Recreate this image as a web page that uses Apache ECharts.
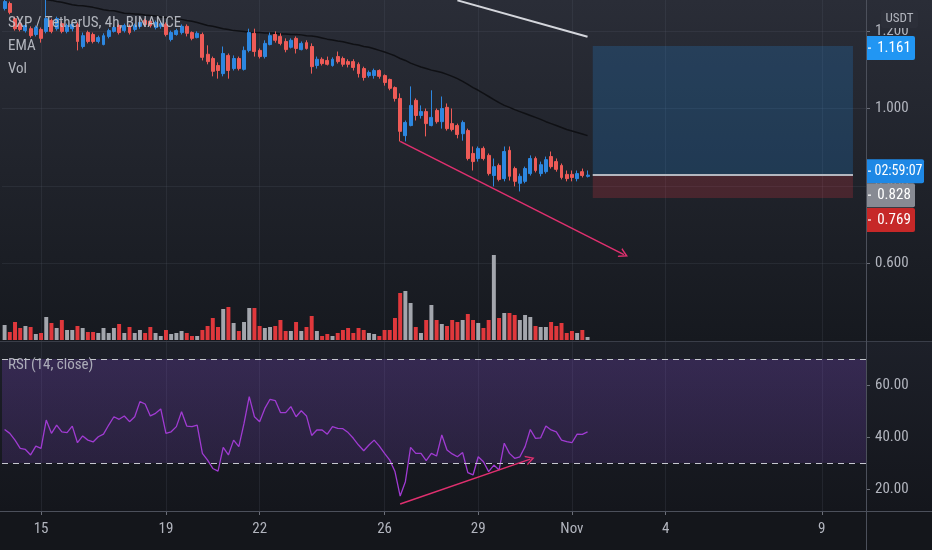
<!DOCTYPE html>
<html><head><meta charset="utf-8">
<script src="https://cdn.jsdelivr.net/npm/echarts@6/dist/echarts.min.js"></script>
<style>html,body{margin:0;padding:0;background:#15171d;}#c{width:932px;height:550px;}</style>
</head><body><div id="c"></div>
<script>
// ---------- DATA (SXP / TetherUS, 4h candles) ----------
const opens = [
1.258,1.271,1.232,1.219,1.201,1.206,1.191,1.204,1.199,1.227,
1.206,1.219,1.199,1.206,1.217,1.160,1.196,1.191,1.173,1.165,
1.186,1.199,1.214,1.201,1.212,1.204,1.212,1.227,1.225,1.209,
1.212,1.217,1.178,1.191,1.196,1.212,1.196,1.183,1.191,1.140,
1.129,1.111,1.090,1.137,1.103,1.129,1.101,1.150,1.194,1.150,
1.134,1.165,1.191,1.186,1.173,1.158,1.181,1.152,1.170,1.160,
1.111,1.127,1.124,1.111,1.134,1.129,1.121,1.121,1.114,1.103,
1.085,1.085,1.098,1.085,1.075,1.054,1.026,0.930,0.956,1.021,
0.982,0.992,0.956,0.995,0.966,1.003,0.961,0.956,0.935,0.943,
0.884,0.871,0.897,0.879,0.827,0.853,0.819,0.892,0.845,0.807,
0.812,0.832,0.871,0.832,0.837,0.876,0.863,0.853,0.830,0.830,
0.819,0.837,0.825];
const closes = [
1.276,1.248,1.206,1.204,1.214,1.188,1.209,1.181,1.232,1.199,
1.232,1.199,1.214,1.217,1.173,1.188,1.173,1.173,1.183,1.188,
1.201,1.209,1.196,1.214,1.196,1.214,1.222,1.217,1.214,1.222,
1.219,1.191,1.196,1.201,1.212,1.194,1.181,1.194,1.132,1.121,
1.096,1.098,1.142,1.098,1.129,1.103,1.150,1.196,1.147,1.134,
1.168,1.188,1.176,1.168,1.152,1.176,1.155,1.168,1.155,1.108,
1.127,1.116,1.114,1.127,1.121,1.114,1.114,1.106,1.090,1.080,
1.093,1.098,1.083,1.067,1.052,1.026,0.941,0.964,1.008,0.982,
0.992,0.961,0.977,0.966,1.000,0.948,0.946,0.933,0.964,0.871,
0.863,0.897,0.871,0.832,0.850,0.817,0.889,0.825,0.812,0.825,
0.845,0.871,0.840,0.855,0.868,0.850,0.843,0.822,0.819,0.822,
0.832,0.827,0.828];
const highs = [
1.284,1.276,1.237,1.227,1.219,1.212,1.214,1.209,1.284,1.232,
1.237,1.225,1.219,1.222,1.222,1.196,1.201,1.196,1.188,1.194,
1.206,1.214,1.219,1.219,1.217,1.219,1.227,1.232,1.230,1.227,
1.225,1.222,1.201,1.206,1.217,1.217,1.199,1.199,1.196,1.163,
1.134,1.119,1.160,1.142,1.137,1.134,1.160,1.206,1.206,1.155,
1.176,1.196,1.199,1.194,1.181,1.181,1.186,1.173,1.176,1.168,
1.134,1.132,1.134,1.132,1.147,1.134,1.127,1.127,1.119,1.108,
1.098,1.103,1.101,1.088,1.077,1.057,1.039,0.969,1.057,1.026,
1.008,1.000,1.047,1.000,1.031,1.013,1.000,0.961,0.969,0.948,
0.902,0.902,0.902,0.884,0.871,0.858,0.902,0.902,0.850,0.832,
0.850,0.879,0.876,0.863,0.876,0.889,0.871,0.858,0.840,0.840,
0.840,0.845,0.840];
const lows = [
1.253,1.243,1.201,1.199,1.196,1.183,1.186,1.170,1.194,1.194,
1.201,1.194,1.194,1.199,1.150,1.155,1.168,1.168,1.168,1.163,
1.181,1.196,1.191,1.196,1.191,1.199,1.206,1.212,1.209,1.204,
1.206,1.186,1.173,1.188,1.191,1.186,1.176,1.181,1.124,1.114,
1.083,1.077,1.083,1.077,1.098,1.098,1.098,1.145,1.134,1.129,
1.129,1.163,1.170,1.163,1.145,1.155,1.142,1.150,1.152,1.090,
1.103,1.111,1.111,1.108,1.116,1.108,1.106,1.098,1.080,1.072,
1.080,1.077,1.077,1.059,1.047,1.018,0.915,0.915,0.954,0.969,
0.974,0.928,0.954,0.961,0.948,0.943,0.941,0.923,0.917,0.866,
0.840,0.863,0.866,0.827,0.799,0.812,0.812,0.814,0.799,0.786,
0.807,0.827,0.835,0.825,0.832,0.845,0.837,0.817,0.812,0.812,
0.812,0.822,0.822];
const ema = [
1.302,1.299,1.297,1.294,1.292,1.289,1.286,1.284,1.281,1.279,
1.276,1.274,1.271,1.268,1.266,1.265,1.263,1.261,1.258,1.255,
1.253,1.252,1.249,1.246,1.245,1.244,1.243,1.241,1.240,1.239,
1.236,1.235,1.234,1.232,1.230,1.227,1.225,1.222,1.218,1.214,
1.212,1.209,1.206,1.204,1.201,1.200,1.199,1.197,1.196,1.196,
1.195,1.195,1.194,1.192,1.192,1.191,1.191,1.190,1.188,1.187,
1.185,1.182,1.179,1.177,1.174,1.172,1.169,1.166,1.164,1.160,
1.158,1.154,1.150,1.146,1.141,1.136,1.129,1.124,1.117,1.112,
1.107,1.103,1.099,1.096,1.093,1.088,1.083,1.077,1.070,1.062,
1.054,1.047,1.039,1.031,1.023,1.015,1.008,1.003,0.997,0.992,
0.987,0.982,0.977,0.972,0.966,0.961,0.956,0.951,0.946,0.942,
0.938,0.934,0.930];
const volumes = [
15,8,18,12,14,13,6,7,23,17,
12,20,10,10,14,12,8,8,7,12,
7,12,16,7,13,7,10,7,13,7,
4,10,6,7,9,7,4,4,10,14,
22,13,31,33,17,9,18,32,32,14,
12,13,14,20,9,9,18,9,13,24,
9,4,6,4,7,10,12,7,12,10,
7,6,4,10,10,22,47,49,37,13,
7,20,35,20,16,14,20,18,20,26,
20,17,12,20,85,22,27,27,25,20,
25,23,14,13,13,18,14,17,7,9,
7,10,3];
const rsi = [
42.9,41.4,38.8,35.6,35.2,33.1,36.5,35.6,46.5,41.4,
44.6,42.0,41.7,44.2,37.8,40.4,38.8,38.1,40.1,41.1,
44.6,47.8,46.8,48.1,45.9,47.8,53.6,52.7,48.1,49.1,
50.8,41.4,42.0,44.0,49.7,44.2,44.0,44.6,33.7,31.1,
27.9,26.9,36.0,33.1,38.8,36.3,45.2,55.5,47.8,45.9,
51.0,54.5,54.0,49.4,49.4,51.7,47.8,50.1,48.1,40.6,
42.7,42.7,41.1,44.0,43.3,43.2,41.7,39.5,36.9,34.7,
36.9,38.8,36.5,33.7,31.1,26.7,17.3,22.8,36.0,33.7,
33.7,30.9,33.7,32.7,40.8,35.0,33.5,32.4,34.0,26.3,
25.4,32.4,30.5,26.7,29.2,27.3,37.6,33.7,31.8,32.4,
36.3,42.9,39.5,39.7,44.2,42.7,42.0,38.8,38.2,37.8,
41.1,41.0,42.0];

// time slots (4h) of the axis, from the first visible candle to the right edge
const firstSlot = '2020-10-13T20:00:00Z';
const slotCount = 166;
const tickDates = ['2020-10-15','2020-10-19','2020-10-22','2020-10-26','2020-10-29','2020-11-01','2020-11-04','2020-11-09'];
const tickLabels = ['15','19','22','26','29','Nov','4','9'];
const priceTicks = [0.6, 0.8, 1.0, 1.2];
const rsiTicks = [20, 40, 60];
const rsiBands = [70, 30];

// drawings
const downTrend = [[76, 0.915], [119, 0.623]];   // [slot, price]
const rsiTrend = [[76, 14.2], [101, 31.5]];      // [slot, rsi]
const whiteLine = [[87, 1.279], [112, 1.185]];   // [slot, price]
const positionSlots = [113, 163];
const targetPrice = 1.161, entryPrice = 0.828, stopPrice = 0.769;
const lastPrice = 0.828, countdown = '02:59:07';

// ---------- CHART ----------
const categories = [];
for (let i = 0; i < slotCount; i++) {
  categories.push(new Date(Date.parse(firstSlot) + i * 4 * 3600e3).toISOString().slice(0, 13));
}
const isTick = (idx, v) => tickDates.indexOf(String(v).slice(0, 10)) >= 0 && String(v).slice(11, 13) === '00';
const tickFmt = v => { const k = tickDates.indexOf(String(v).slice(0, 10)); return k >= 0 ? tickLabels[k] : ''; };

const FONT = '"Liberation Sans Narrow", "Roboto Condensed", Roboto, "Noto Sans", sans-serif';
const TEXT = '#b2b5be';
const UP = '#2d87e0', DOWN = '#ee5b57';
const VOL_UP = '#a3a6ad', VOL_DOWN = '#e0383c';
const PINK = '#e0306f';
const GRIDC = 'rgba(90,94,108,0.2)';
const L = 2, R = 66, W = 932, H = 550;
const AXX = W - R;
const chevron = 'path://M0,10 L5,0 L10,10 L8.4,10 L5,3.2 L1.6,10 Z';

function xAxisCfg(gi, showLabels, showSplit) {
  return {
    type: 'category', gridIndex: gi, data: categories, boundaryGap: true,
    axisLine: { show: false },
    axisTick: { show: showLabels, alignWithLabel: true, interval: isTick, length: 4, lineStyle: { color: '#6b6e78' } },
    axisLabel: { show: showLabels, interval: isTick, formatter: tickFmt, color: TEXT, fontSize: 15, fontFamily: FONT, margin: 11 },
    splitLine: { show: showSplit, alignWithLabel: true, interval: isTick, lineStyle: { color: GRIDC, width: 1 } }
  };
}

const candleData = opens.map((o, i) => [o, closes[i], lows[i], highs[i]]);
const volData = volumes.map((v, i) => ({ value: v, itemStyle: { color: closes[i] >= opens[i] ? VOL_UP : VOL_DOWN } }));

const option = {
  animation: false,
  backgroundColor: '#15171d',
  grid: [
    { left: L, right: R, top: 0, height: 341 },
    { left: L, right: R, top: 240, height: 100 },
    { left: L, right: R, top: 333, height: 208 },
    { left: L, right: R, top: 342, height: 169 }
  ],
  xAxis: [xAxisCfg(0, false, true), xAxisCfg(1, false, false), xAxisCfg(2, false, false), xAxisCfg(3, true, true)],
  yAxis: [
    { type: 'value', gridIndex: 0, position: 'right', min: 0.4, max: 1.28, interval: 0.2,
      axisLine: { show: false },
      axisTick: { show: true, length: 4, customValues: priceTicks, lineStyle: { color: '#6b6e78' } },
      axisLabel: { color: TEXT, fontSize: 15, fontFamily: FONT, margin: 9, customValues: priceTicks, formatter: v => v.toFixed(3) },
      splitLine: { lineStyle: { color: GRIDC } } },
    { type: 'value', gridIndex: 1, min: 0, max: 100, show: false, splitLine: { show: false } },
    { type: 'value', gridIndex: 2, position: 'right', min: 0, max: 80,
      axisLine: { show: false },
      axisTick: { show: true, length: 4, customValues: rsiTicks, lineStyle: { color: '#6b6e78' } },
      axisLabel: { color: TEXT, fontSize: 15, fontFamily: FONT, margin: 9, customValues: rsiTicks, formatter: v => v.toFixed(2) },
      splitLine: { show: false } },
    { type: 'value', gridIndex: 3, show: false, splitLine: { show: false } }
  ],
  series: [
    { type: 'bar', name: 'Vol', xAxisIndex: 1, yAxisIndex: 1, data: volData, barWidth: '76%', z: 1 },
    { type: 'line', name: 'EMA', xAxisIndex: 0, yAxisIndex: 0, data: ema, symbol: 'none', z: 2,
      lineStyle: { color: '#0f1014', width: 1.5 } },
    { type: 'candlestick', name: 'SXP', xAxisIndex: 0, yAxisIndex: 0, data: candleData, barWidth: '66%', z: 3,
      itemStyle: { color: UP, color0: DOWN, borderColor: UP, borderColor0: DOWN, borderWidth: 1 },
      markArea: { silent: true, data: [
        [{ coord: [positionSlots[0], targetPrice], itemStyle: { color: 'rgba(33,150,243,0.2)' } }, { coord: [positionSlots[1], entryPrice] }],
        [{ coord: [positionSlots[0], entryPrice], itemStyle: { color: 'rgba(242,54,69,0.2)' } }, { coord: [positionSlots[1], stopPrice] }]
      ] },
      markLine: { silent: true, symbol: ['none', 'none'], label: { show: false }, data: [
        [{ coord: downTrend[0], lineStyle: { color: PINK, width: 1.5, type: 'solid' } },
         { coord: downTrend[1], symbol: chevron, symbolSize: [10, 9] }],
        [{ coord: whiteLine[0], lineStyle: { color: '#d4d6dc', width: 2, type: 'solid' } }, { coord: whiteLine[1] }],
        [{ coord: [positionSlots[0], entryPrice], lineStyle: { color: '#b4b7bf', width: 2, type: 'solid' } }, { coord: [positionSlots[1], entryPrice] }]
      ] } },
    { type: 'line', name: 'RSI', xAxisIndex: 2, yAxisIndex: 2, data: rsi, symbol: 'none', z: 3,
      lineStyle: { color: '#a03bd2', width: 1.3 },
      markArea: { silent: true, data: [[
        { yAxis: rsiBands[0], itemStyle: { color: { type: 'linear', x: 0, y: 0, x2: 0, y2: 1,
          colorStops: [{ offset: 0, color: 'rgba(126,70,200,0.26)' }, { offset: 1, color: 'rgba(126,70,200,0.18)' }] } } },
        { yAxis: rsiBands[1] }]] },
      markLine: { silent: true, symbol: ['none', 'none'], label: { show: false }, data: [
        { yAxis: rsiBands[0], lineStyle: { color: '#c5c7ce', width: 1, type: [6, 5] } },
        { yAxis: rsiBands[1], lineStyle: { color: '#c5c7ce', width: 1, type: [6, 5] } },
        [{ coord: rsiTrend[0], lineStyle: { color: PINK, width: 1.5, type: 'solid' } },
         { coord: rsiTrend[1], symbol: chevron, symbolSize: [10, 9] }]
      ] } }
  ]
};

const chart = echarts.init(document.getElementById('c'), null, { renderer: 'canvas' });
chart.setOption(option);

// ---------- overlays: backgrounds, legends, price tags ----------
const grad = (a, b) => ({ type: 'linear', x: 0, y: 0, x2: 0, y2: 1, colorStops: [{ offset: 0, color: a }, { offset: 1, color: b }] });
const py = v => chart.convertToPixel({ yAxisIndex: 0 }, v);
const els = [
  { type: 'rect', z: -100, shape: { x: 0, y: 0, width: W, height: 341 }, style: { fill: grad('#2a2d37', '#16191f') }, silent: true },
  { type: 'rect', z: -100, shape: { x: 0, y: 341, width: W, height: 170 }, style: { fill: grad('#1d2029', '#14161c') }, silent: true },
  { type: 'rect', z: -100, shape: { x: 0, y: 511, width: W, height: 39 }, style: { fill: '#14161b' }, silent: true },
  { type: 'line', z: 50, shape: { x1: 0, y1: 341.5, x2: W, y2: 341.5 }, style: { stroke: '#3a3e49', lineWidth: 1 }, silent: true },
  { type: 'line', z: 50, shape: { x1: 0, y1: 511.5, x2: W, y2: 511.5 }, style: { stroke: '#4c505b', lineWidth: 1 }, silent: true },
  { type: 'line', z: 50, shape: { x1: AXX + 0.5, y1: 0, x2: AXX + 0.5, y2: H }, style: { stroke: '#4c505b', lineWidth: 1 }, silent: true },
  { type: 'text', z: 60, x: 8, y: 23, style: { text: 'SXP / TetherUS, 4h, BINANCE', fill: 'rgba(190,193,201,0.92)', font: '15px ' + FONT, verticalAlign: 'middle' }, silent: true },
  { type: 'text', z: 60, x: 8, y: 46, style: { text: 'EMA', fill: 'rgba(190,193,201,0.92)', font: '15px ' + FONT, verticalAlign: 'middle' }, silent: true },
  { type: 'text', z: 60, x: 8, y: 69, style: { text: 'Vol', fill: 'rgba(190,193,201,0.92)', font: '15px ' + FONT, verticalAlign: 'middle' }, silent: true },
  { type: 'text', z: 60, x: 8, y: 365, style: { text: 'RSI (14, close)', fill: 'rgba(190,193,201,0.85)', font: '15px ' + FONT, verticalAlign: 'middle' }, silent: true },
  { type: 'rect', z: 60, shape: { x: 881, y: 10, width: 37, height: 18, r: 2 }, style: { fill: '#2c2f39' }, silent: true },
  { type: 'text', z: 61, x: 899.5, y: 19, style: { text: 'USDT', fill: TEXT, font: '13px ' + FONT, align: 'center', verticalAlign: 'middle' }, silent: true }
];
const tags = [
  { text: targetPrice.toFixed(3), value: targetPrice, color: '#2196f3', w: 48, shift: 2, fs: 15 },
  { text: countdown, value: lastPrice, color: '#1e88e5', w: 57, shift: -4, fs: 14 },
  { text: entryPrice.toFixed(3), value: entryPrice, color: '#878a93', w: 48, shift: 20, fs: 15 },
  { text: stopPrice.toFixed(3), value: stopPrice, color: '#c62828', w: 48, shift: 22, fs: 15 }
];
tags.forEach(t => {
  const cy = py(t.value) + t.shift;
  els.push({ type: 'rect', z: 70, shape: { x: AXX + 1, y: cy - 12, width: t.w, height: 24, r: [0, 2, 2, 0] }, style: { fill: t.color }, silent: true });
  els.push({ type: 'line', z: 71, shape: { x1: AXX + 2, y1: cy, x2: AXX + 5, y2: cy }, style: { stroke: '#ffffff', lineWidth: 1.2 }, silent: true });
  els.push({ type: 'text', z: 71, x: AXX + 4 + t.w / 2, y: cy, style: { text: t.text, fill: '#ffffff', font: t.fs + 'px ' + FONT, align: 'center', verticalAlign: 'middle' }, silent: true });
});
chart.setOption({ graphic: { elements: els } });
</script>
</body></html>
